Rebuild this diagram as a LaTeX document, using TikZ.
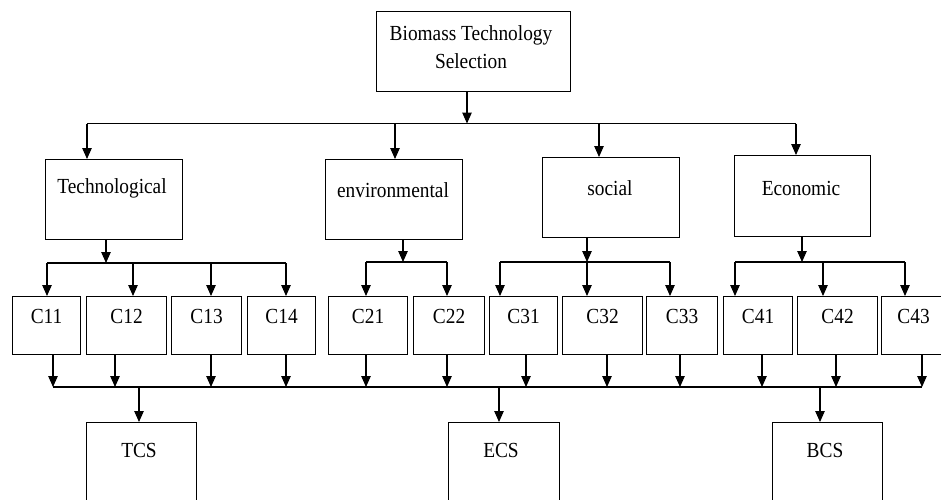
\documentclass[tikz,border=0pt]{standalone}
\usepackage{fontspec}
\setmainfont{Liberation Serif}[FakeStretch=0.9]
\usetikzlibrary{arrows.meta,calc}
\tikzset{
  box/.style={draw, line width=1.1pt, rectangle, inner sep=0pt, anchor=north west},
  lbl/.style={font=\fontsize{21.5}{28}\selectfont, inner sep=0pt, align=center},
  link/.style={line width=1.1pt},
  arr/.style={link, -{Triangle[length=11pt,width=9.5pt]}},
}
\begin{document}
\begin{tikzpicture}[x=1pt,y=-1pt]
\useasboundingbox (0,0) rectangle (941,499);

% goal box
\node[box, minimum width=194pt, minimum height=80pt] (goal) at (376,11) {};
\node[lbl] (goal-t) at (471,47) {Biomass Technology\\Selection};

% criteria boxes
\node[box, minimum width=137pt, minimum height=80pt] (tech) at (45,159) {};
\node[lbl] (tech-t) at (112,188) {Technological};
\node[box, minimum width=137pt, minimum height=80pt] (env) at (325,159) {};
\node[lbl] (env-t) at (393,190) {environmental};
\node[box, minimum width=137pt, minimum height=80pt] (soc) at (542,157) {};
\node[lbl] (soc-t) at (610,188) {social};
\node[box, minimum width=136pt, minimum height=81pt] (eco) at (734,155) {};
\node[lbl] (eco-t) at (801,188) {Economic};

% goal to criteria
\coordinate (gj) at (467,123.5);
\coordinate (g1) at (87,123.5);
\coordinate (g2) at (395,123.5);
\coordinate (g3) at (599,123.5);
\coordinate (g4) at (796,123.5);
\draw[arr] (goal.south -| gj) -- (gj);
\draw[link] (g1) -- (g4);
\draw[arr] (g1) -- (tech.north -| g1);
\draw[arr] (g2) -- (env.north -| g2);
\draw[arr] (g3) -- (soc.north -| g3);
\draw[arr] (g4) -- (eco.north -| g4);

% sub-criteria boxes and their links to the lower bus
\foreach \nm/\l/\w/\ox in {C11/12/68/53, C12/86/80/115, C13/171/70/211,
    C14/247/68/286, C21/328/79/366, C22/413/71/447, C31/489/68/526,
    C32/562/80/607, C33/646/71/680, C41/723/69/762, C42/797/80/836,
    C43/881/64/922}{
  \node[box, minimum width=\w pt, minimum height=58pt] (\nm) at (\l,296) {};
  \node[lbl] (\nm-t) at ([yshift=-20pt]\nm.north) {\nm};
  \coordinate (\nm-o) at (\ox,387);
  \draw[arr] (\nm.south -| \nm-o) -- (\nm-o);
}

% technological branch
\coordinate (t0) at (106,263);
\coordinate (t1) at (47,263);
\coordinate (t2) at (133,263);
\coordinate (t3) at (211,263);
\coordinate (t4) at (286,263);
\draw[arr] (tech.south -| t0) -- (t0);
\draw[link] (t1) -- (t4);
\draw[arr] (t1) -- (C11.north -| t1);
\draw[arr] (t2) -- (C12.north -| t2);
\draw[arr] (t3) -- (C13.north -| t3);
\draw[arr] (t4) -- (C14.north -| t4);

% environmental branch
\coordinate (e0) at (403,262);
\coordinate (e1) at (366,262);
\coordinate (e2) at (447,262);
\draw[arr] (env.south -| e0) -- (e0);
\draw[link] (e1) -- (e2);
\draw[arr] (e1) -- (C21.north -| e1);
\draw[arr] (e2) -- (C22.north -| e2);

% social branch
\coordinate (s0) at (587,262);
\coordinate (s1) at (500,262);
\coordinate (s3) at (670,262);
\draw[arr] (soc.south -| s0) -- (s0);
\draw[link] (s1) -- (s3);
\draw[arr] (s1) -- (C31.north -| s1);
\draw[arr] (s0) -- (C32.north -| s0);
\draw[arr] (s3) -- (C33.north -| s3);

% economic branch
\coordinate (k0) at (802,262);
\coordinate (k1) at (735,262);
\coordinate (k2) at (823,262);
\coordinate (k3) at (905,262);
\draw[arr] (eco.south -| k0) -- (k0);
\draw[link] (k1) -- (k3);
\draw[arr] (k1) -- (C41.north -| k1);
\draw[arr] (k2) -- (C42.north -| k2);
\draw[arr] (k3) -- (C43.north -| k3);

% lower bus and score boxes
\draw[link] (C11-o) -- (C43-o);
\node[box, minimum width=110pt, minimum height=100pt] (tcs) at (86,422) {};
\node[lbl] (tcs-t) at (139,450) {TCS};
\node[box, minimum width=111pt, minimum height=100pt] (ecs) at (448,422) {};
\node[lbl] (ecs-t) at (501,450) {ECS};
\node[box, minimum width=110pt, minimum height=100pt] (bcs) at (772,422) {};
\node[lbl] (bcs-t) at (825,450) {BCS};

\coordinate (r1) at (139,387);
\coordinate (r2) at (499,387);
\coordinate (r3) at (820,387);
\draw[arr] (r1) -- (tcs.north -| r1);
\draw[arr] (r2) -- (ecs.north -| r2);
\draw[arr] (r3) -- (bcs.north -| r3);
\end{tikzpicture}
\end{document}
